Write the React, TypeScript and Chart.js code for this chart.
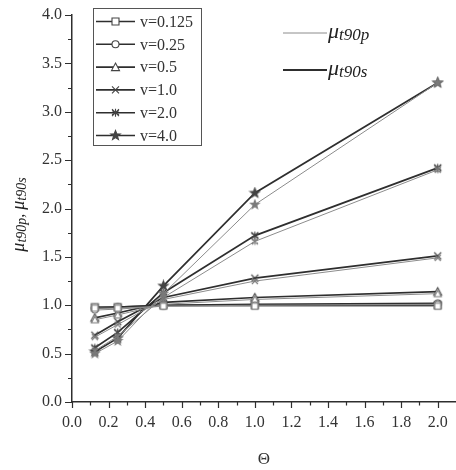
import React, { useEffect, useRef } from 'react';
import { Chart, registerables } from 'chart.js';

Chart.register(...registerables);

// ---- data ----
const THETA = [0.125, 0.25, 0.5, 1.0, 2.0];
const NU_LABELS = ['v=0.125', 'v=0.25', 'v=0.5', 'v=1.0', 'v=2.0', 'v=4.0'];
const MARKERS = ['square', 'circle', 'triangle', 'cross', 'asterisk', 'star'];

// mu_t90s (thick, dark)
const S_V0125 = [0.98, 0.98, 1.0, 1.0, 1.0];
const S_V025 = [0.97, 0.98, 1.0, 1.01, 1.02];
const S_V05 = [0.87, 0.92, 1.03, 1.08, 1.14];
const S_V1 = [0.69, 0.83, 1.08, 1.28, 1.51];
const S_V2 = [0.56, 0.72, 1.13, 1.72, 2.42];
const S_V4 = [0.52, 0.66, 1.2, 2.16, 3.3];

// mu_t90p (thin, light)
const P_V0125 = [0.97, 0.97, 0.99, 0.99, 0.99];
const P_V025 = [0.95, 0.96, 0.99, 1.0, 1.01];
const P_V05 = [0.85, 0.9, 1.01, 1.06, 1.12];
const P_V1 = [0.67, 0.8, 1.06, 1.25, 1.49];
const P_V2 = [0.53, 0.68, 1.08, 1.66, 2.4];
const P_V4 = [0.5, 0.63, 1.12, 2.04, 3.3];

const S_SERIES = [S_V0125, S_V025, S_V05, S_V1, S_V2, S_V4];
const P_SERIES = [P_V0125, P_V025, P_V05, P_V1, P_V2, P_V4];

const X_MIN = 0;
const X_MAX = 2.1;
const X_STEP = 0.2;
const Y_MIN = 0;
const Y_MAX = 4;
const Y_STEP = 0.5;

const FONT = '"Liberation Serif", "DejaVu Serif", serif';
const DARK = '#2e2e2e';
const LIGHT = '#8c8c8c';

function drawMarkerShape(ctx: CanvasRenderingContext2D, kind: string, cx: number, cy: number, color: string, r: number) {
  ctx.save();
  ctx.strokeStyle = color;
  ctx.fillStyle = '#ffffff';
  ctx.lineWidth = 1.1;
  ctx.beginPath();
  if (kind === 'square') {
    ctx.rect(cx - r, cy - r, 2 * r, 2 * r);
    ctx.fill();
    ctx.stroke();
  } else if (kind === 'circle') {
    ctx.arc(cx, cy, r, 0, Math.PI * 2);
    ctx.fill();
    ctx.stroke();
  } else if (kind === 'triangle') {
    ctx.moveTo(cx, cy - r - 0.5);
    ctx.lineTo(cx + r + 0.5, cy + r);
    ctx.lineTo(cx - r - 0.5, cy + r);
    ctx.closePath();
    ctx.fill();
    ctx.stroke();
  } else if (kind === 'cross') {
    ctx.moveTo(cx - r, cy - r);
    ctx.lineTo(cx + r, cy + r);
    ctx.moveTo(cx + r, cy - r);
    ctx.lineTo(cx - r, cy + r);
    ctx.stroke();
  } else if (kind === 'asterisk') {
    ctx.moveTo(cx, cy - r - 0.5);
    ctx.lineTo(cx, cy + r + 0.5);
    ctx.moveTo(cx - r, cy - r * 0.6);
    ctx.lineTo(cx + r, cy + r * 0.6);
    ctx.moveTo(cx + r, cy - r * 0.6);
    ctx.lineTo(cx - r, cy + r * 0.6);
    ctx.moveTo(cx - r, cy - r);
    ctx.lineTo(cx + r, cy + r);
    ctx.moveTo(cx + r, cy - r);
    ctx.lineTo(cx - r, cy + r);
    ctx.stroke();
  } else if (kind === 'star') {
    const outer = r + 1.5;
    const inner = outer * 0.42;
    for (let i = 0; i < 10; i++) {
      const rr = i % 2 === 0 ? outer : inner;
      const a = -Math.PI / 2 + (i * Math.PI) / 5;
      const px = cx + rr * Math.cos(a);
      const py = cy + rr * Math.sin(a);
      if (i === 0) ctx.moveTo(px, py);
      else ctx.lineTo(px, py);
    }
    ctx.closePath();
    ctx.fillStyle = color;
    ctx.fill();
    ctx.stroke();
  }
  ctx.restore();
}

function makeMarker(kind: string, color: string, r: number): HTMLCanvasElement {
  const c = document.createElement('canvas');
  const size = Math.ceil(2 * r + 6);
  c.width = size;
  c.height = size;
  const ctx = c.getContext('2d') as CanvasRenderingContext2D;
  drawMarkerShape(ctx, kind, size / 2, size / 2, color, r);
  return c;
}

type Part = { t: string; size: number; dy: number };

function measureParts(ctx: CanvasRenderingContext2D, parts: Part[]) {
  let w = 0;
  for (const p of parts) {
    ctx.font = `italic ${p.size}px ${FONT}`;
    w += ctx.measureText(p.t).width;
  }
  return w;
}

function drawParts(ctx: CanvasRenderingContext2D, parts: Part[], x: number, y: number, color: string) {
  let cx = x;
  ctx.fillStyle = color;
  ctx.textBaseline = 'alphabetic';
  ctx.textAlign = 'left';
  for (const p of parts) {
    ctx.font = `italic ${p.size}px ${FONT}`;
    ctx.fillText(p.t, cx, y + p.dy);
    cx += ctx.measureText(p.t).width;
  }
}

const decorPlugin = {
  id: 'decor',
  afterDraw(chart: any) {
    const { ctx, chartArea, scales } = chart;
    const xs = scales.x;
    const ys = scales.y;
    ctx.save();
    // outward ticks with minor ticks
    ctx.strokeStyle = DARK;
    ctx.lineWidth = 1.2;
    ctx.beginPath();
    for (let i = 0; i <= 20; i++) {
      const px = Math.round(xs.getPixelForValue(i / 10)) + 0.5;
      const len = i % 2 === 0 ? 6 : 3.5;
      ctx.moveTo(px, chartArea.bottom);
      ctx.lineTo(px, chartArea.bottom + len);
    }
    for (let i = 0; i <= 16; i++) {
      const py = Math.round(ys.getPixelForValue(i * 0.25)) + 0.5;
      const len = i % 2 === 0 ? 7 : 4;
      ctx.moveTo(chartArea.left, py);
      ctx.lineTo(chartArea.left - len, py);
    }
    ctx.stroke();

    // legend box for v
    const bx = chartArea.left + 21;
    const by = chartArea.top - 7;
    const bw = 108;
    const bh = 137;
    ctx.fillStyle = '#ffffff';
    ctx.fillRect(bx, by, bw, bh);
    ctx.strokeStyle = '#555';
    ctx.lineWidth = 1;
    ctx.strokeRect(bx + 0.5, by + 0.5, bw, bh);
    for (let i = 0; i < NU_LABELS.length; i++) {
      const ry = by + 13.5 + i * 22.8;
      ctx.strokeStyle = DARK;
      ctx.lineWidth = 1.6;
      ctx.beginPath();
      ctx.moveTo(bx + 3, ry);
      ctx.lineTo(bx + 42, ry);
      ctx.stroke();
      drawMarkerShape(ctx, MARKERS[i], bx + 22.5, ry, '#444', 3.5);
      ctx.fillStyle = '#333';
      ctx.font = `16px ${FONT}`;
      ctx.textAlign = 'left';
      ctx.textBaseline = 'middle';
      ctx.fillText(NU_LABELS[i], bx + 47, ry + 1);
    }

    // line-style annotation (p thin / s thick)
    const lx0 = chartArea.left + 211;
    const lx1 = chartArea.left + 255;
    const rows = [
      { y: chartArea.top + 18, w: 1, c: LIGHT, sub: 't90p' },
      { y: chartArea.top + 55, w: 2, c: DARK, sub: 't90s' },
    ];
    for (const r of rows) {
      ctx.strokeStyle = r.c;
      ctx.lineWidth = r.w;
      ctx.beginPath();
      ctx.moveTo(lx0, r.y);
      ctx.lineTo(lx1, r.y);
      ctx.stroke();
      drawParts(
        ctx,
        [
          { t: 'μ', size: 22, dy: 0 },
          { t: r.sub, size: 17, dy: 2 },
        ],
        lx1 + 1,
        r.y + 5,
        '#222'
      );
    }

    // y axis title
    const yParts: Part[] = [
      { t: 'μ', size: 18, dy: 0 },
      { t: 't90p', size: 14, dy: 2 },
      { t: ', ', size: 16, dy: 0 },
      { t: 'μ', size: 18, dy: 0 },
      { t: 't90s', size: 14, dy: 2 },
    ];
    const tw = measureParts(ctx, yParts);
    const cy = (chartArea.top + chartArea.bottom) / 2 + 6;
    ctx.translate(24, cy);
    ctx.rotate(-Math.PI / 2);
    drawParts(ctx, yParts, -tw / 2, 0, '#222');
    ctx.restore();
  },
};

export default function App() {
  const ref = useRef<HTMLCanvasElement | null>(null);

  useEffect(() => {
    document.body.style.margin = '0';
    const canvas = ref.current;
    if (!canvas) return;

    const datasets: any[] = [];
    for (let i = 0; i < S_SERIES.length; i++) {
      datasets.push({
        label: 'p ' + NU_LABELS[i],
        data: THETA.map((t, j) => ({ x: t, y: P_SERIES[i][j] })),
        borderColor: LIGHT,
        borderWidth: 1,
        pointStyle: makeMarker(MARKERS[i], '#7a7a7a', 3),
        pointRadius: 4,
        tension: 0,
        fill: false,
      });
    }
    for (let i = 0; i < S_SERIES.length; i++) {
      datasets.push({
        label: 's ' + NU_LABELS[i],
        data: THETA.map((t, j) => ({ x: t, y: S_SERIES[i][j] })),
        borderColor: DARK,
        borderWidth: 1.7,
        pointStyle: makeMarker(MARKERS[i], '#444', 3.5),
        pointRadius: 4,
        tension: 0,
        fill: false,
      });
    }

    const chart = new Chart(canvas, {
      type: 'line',
      data: { datasets },
      options: {
        animation: false,
        responsive: true,
        maintainAspectRatio: false,
        layout: { autoPadding: false, padding: { top: 15, right: 0, left: 0, bottom: 0 } },
        plugins: {
          legend: { display: false },
          tooltip: { enabled: false },
        },
        scales: {
          x: {
            type: 'linear',
            min: X_MIN,
            max: X_MAX,
            grid: { display: false, drawTicks: false },
            border: { display: true, color: DARK, width: 1.5 },
            ticks: {
              stepSize: X_STEP,
              includeBounds: false,
              padding: 11,
              color: '#333',
              font: { family: FONT, size: 16 },
              maxRotation: 0,
              autoSkip: false,
              callback: (v: any) => Number(v).toFixed(1),
            },
            title: {
              display: true,
              text: 'Θ',
              color: '#333',
              font: { family: FONT, size: 17 },
              padding: { top: 12, bottom: 0 },
            },
            afterFit: (s: any) => {
              s.height = 68;
              s.paddingLeft = 0;
              s.paddingRight = 0;
            },
          },
          y: {
            type: 'linear',
            min: Y_MIN,
            max: Y_MAX,
            grid: { display: false, drawTicks: false },
            border: { display: true, color: DARK, width: 1.5 },
            ticks: {
              stepSize: Y_STEP,
              padding: 10,
              color: '#333',
              font: { family: FONT, size: 16 },
              callback: (v: any) => Number(v).toFixed(1),
            },
            afterFit: (s: any) => {
              s.width = 72;
              s.paddingTop = 0;
              s.paddingBottom = 0;
            },
          },
        },
      },
      plugins: [decorPlugin],
    });

    return () => chart.destroy();
  }, []);

  return (
    <div style={{ position: 'relative', width: 456, height: 470 }}>
      <canvas ref={ref} />
    </div>
  );
}
